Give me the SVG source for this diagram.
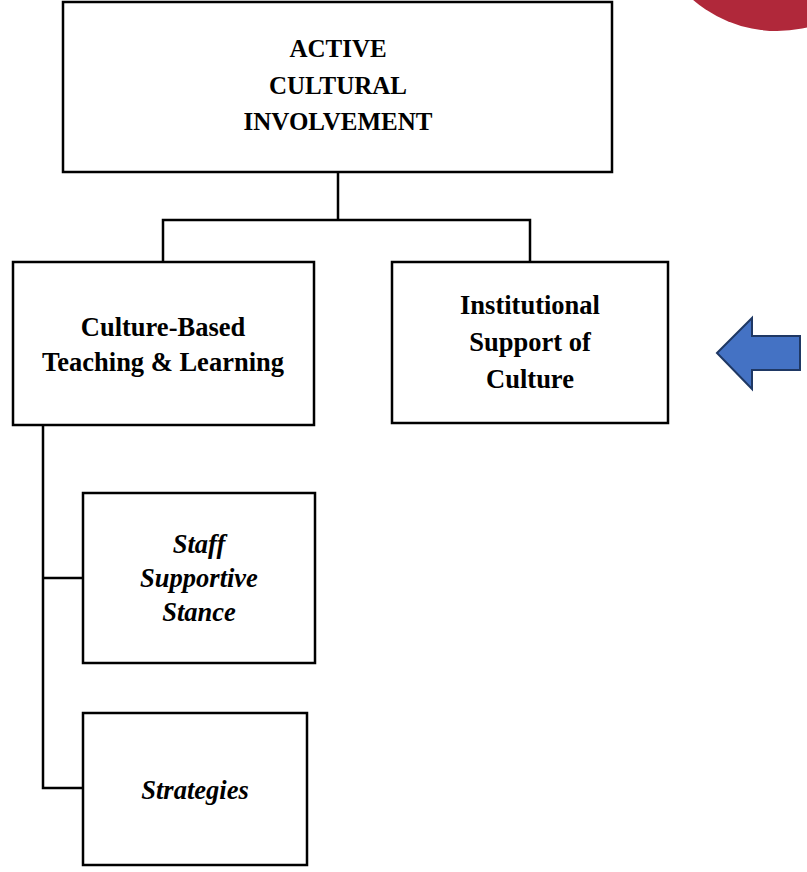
<svg xmlns="http://www.w3.org/2000/svg" width="807" height="872" viewBox="0 0 807 872">
<style>
.box{fill:#fff;stroke:#000;stroke-width:2.5}
.t{font-family:"Liberation Serif","Times New Roman",serif;font-weight:bold;text-anchor:middle;fill:#000}
.b{font-size:25px}
.m{font-size:26.5px}
.i{font-style:italic;font-size:26.5px}
.c{fill:none;stroke:#000;stroke-width:2.5}
</style>
<rect width="807" height="872" fill="#fff"/>
<circle id="deco" cx="777" cy="-98" r="129" fill="#B0283A"/>
<g id="connectors">
<path class="c" d="M338 172V220M163 262V220H530V262"/>
<path class="c" d="M43 425V788H83M43 578H83"/>
</g>
<g id="n-top"><rect class="box" x="63" y="2" width="549" height="170"/>
<text class="t b" x="338" y="57">ACTIVE</text>
<text class="t b" x="338" y="94">CULTURAL</text>
<text class="t b" x="338" y="130">INVOLVEMENT</text></g>
<g id="n-cbtl"><rect class="box" x="13" y="262" width="301" height="163"/>
<text class="t m" x="163" y="336">Culture-Based</text>
<text class="t m" x="163" y="371">Teaching &amp; Learning</text></g>
<g id="n-isc"><rect class="box" x="392" y="262" width="276" height="161"/>
<text class="t m" x="530" y="314">Institutional</text>
<text class="t m" x="530" y="351">Support of</text>
<text class="t m" x="530" y="388">Culture</text></g>
<g id="n-staff"><rect class="box" x="83" y="493" width="232" height="170"/>
<text class="t i" x="199" y="553">Staff</text>
<text class="t i" x="199" y="587">Supportive</text>
<text class="t i" x="199" y="621">Stance</text></g>
<g id="n-strat"><rect class="box" x="83" y="713" width="224" height="152"/>
<text class="t i" x="195" y="799">Strategies</text></g>
<g id="arrow"><polygon points="717,353 752,318 752,336 800,336 800,370 752,370 752,389" fill="#4472C4" stroke="#1F3864" stroke-width="2"/></g>
</svg>
